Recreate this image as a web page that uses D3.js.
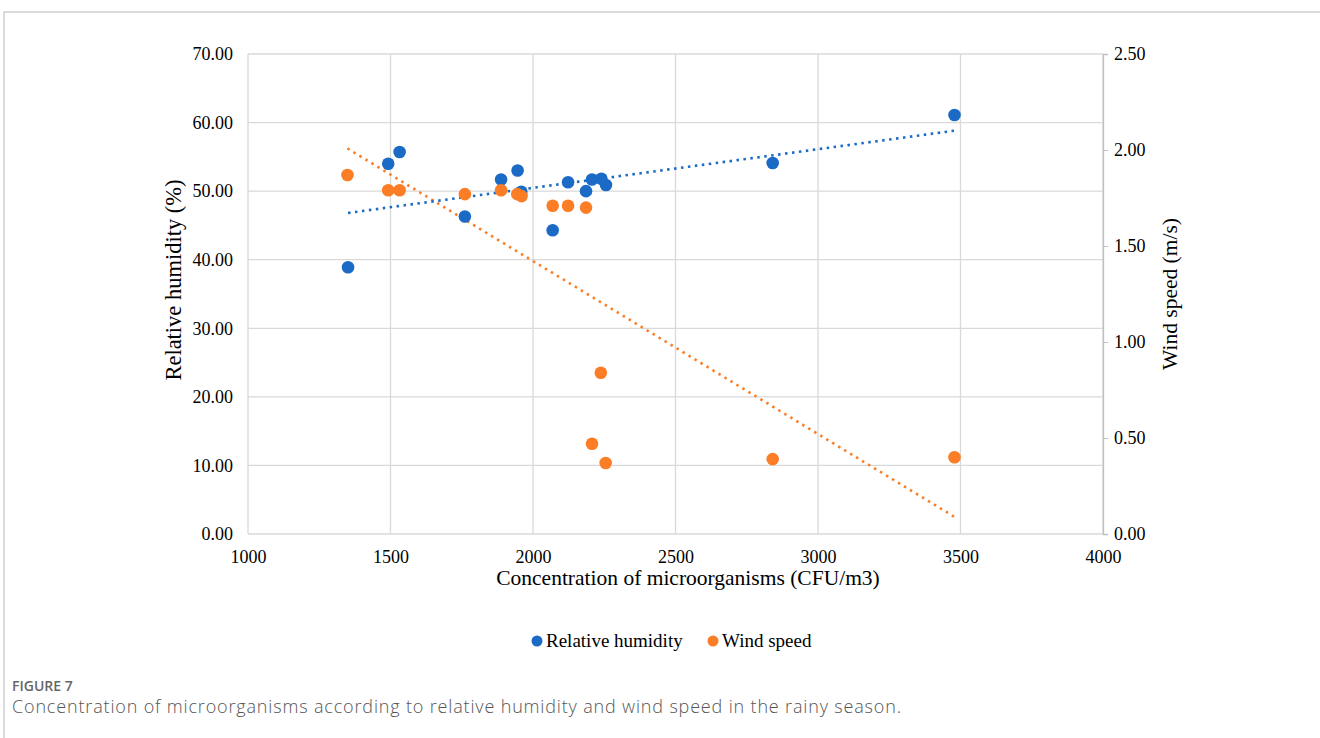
<!DOCTYPE html>
<html lang="en">
  <head>
    <meta charset="UTF-8" />
    <title>Figure 7</title>
    <style>
      body { margin: 0; background: #fff; }
      svg text { font-family: "Liberation Serif", "Times New Roman", serif; }
      svg .cap { font-family: "Open Sans", "Noto Sans", sans-serif; }
    </style>
  </head>
  <body>
    <svg width="1320" height="738" xmlns="http://www.w3.org/2000/svg"></svg>
    <script src="https://cdn.jsdelivr.net/npm/d3@7/dist/d3.min.js"></script>
    <script>
      // concentration (CFU/m3) for each sample
      const conc = [1351, 1492, 1532, 1761, 1888, 1946, 1959, 2069, 2123, 2186, 2207, 2240, 2256, 2841, 3479];
      const humidity = [38.9, 54.0, 55.7, 46.3, 51.7, 53.0, 49.9, 44.3, 51.3, 50.0, 51.7, 51.8, 50.9, 54.1, 61.1];
      const windConc = [1349, 1492, 1532, 1761, 1888, 1945, 1960, 2069, 2123, 2186, 2238, 2207, 2255, 2841, 3479];
      const wind = [1.87, 1.79, 1.79, 1.77, 1.79, 1.77, 1.76, 1.71, 1.71, 1.70, 0.84, 0.47, 0.37, 0.39, 0.40];

      const xTicks = [1000, 1500, 2000, 2500, 3000, 3500, 4000];
      const yLeftTicks = [0, 10, 20, 30, 40, 50, 60, 70];
      const yRightTicks = [0, 0.5, 1, 1.5, 2, 2.5];

      const blue = "#1b6bc6";
      const orange = "#fb7d26";

      const svg = d3.select("svg");
      const m = { left: 248, right: 1103, top: 54, bottom: 534 };

      const x = d3.scaleLinear().domain([1000, 4000]).range([m.left, m.right]);
      const yL = d3.scaleLinear().domain([0, 70]).range([m.bottom, m.top]);
      const yR = d3.scaleLinear().domain([0, 2.5]).range([m.bottom, m.top]);

      // card frame
      svg.append("path")
        .attr("d", "M4,738 V12 H1320")
        .attr("fill", "none")
        .attr("stroke", "#d0d0d0")
        .attr("stroke-width", 1.5);

      // grid
      const grid = svg.append("g").attr("stroke", "#d9d9d9").attr("stroke-width", 1.3);
      grid.selectAll(".gx").data(xTicks).join("line")
        .attr("x1", d => x(d)).attr("x2", d => x(d))
        .attr("y1", m.top).attr("y2", m.bottom);
      grid.selectAll(".gy").data(yLeftTicks).join("line")
        .attr("x1", m.left).attr("x2", m.right)
        .attr("y1", d => yL(d)).attr("y2", d => yL(d));

      // axes
      const ax = svg.append("g")
        .attr("transform", `translate(0,${m.bottom})`)
        .call(d3.axisBottom(x).tickValues(xTicks).tickSize(0).tickPadding(16).tickFormat(d3.format("d")));
      const axL = svg.append("g")
        .attr("transform", `translate(${m.left},0)`)
        .call(d3.axisLeft(yL).tickValues(yLeftTicks).tickSize(0).tickPadding(15).tickFormat(d3.format(".2f")));
      const axR = svg.append("g")
        .attr("transform", `translate(${m.right},0)`)
        .call(d3.axisRight(yR).tickValues(yRightTicks).tickSize(5).tickPadding(6).tickFormat(d3.format(".2f")));
      [ax, axL, axR].forEach(g => {
        g.select(".domain").attr("stroke", "#bfbfbf").attr("stroke-width", 1.3);
        g.selectAll(".tick line").attr("stroke", "#bfbfbf");
        g.selectAll("text").attr("font-size", 18).attr("fill", "#000")
          .attr("font-family", "Liberation Serif, Times New Roman, serif");
      });
      ax.select(".domain").remove();
      axL.select(".domain").remove();

      // trendlines (least squares)
      function trend(xs, ys) {
        const mx = d3.mean(xs), my = d3.mean(ys);
        let sxy = 0, sxx = 0;
        xs.forEach((v, i) => { sxy += (v - mx) * (ys[i] - my); sxx += (v - mx) * (v - mx); });
        const b = sxy / sxx;
        const x0 = d3.min(xs), x1 = d3.max(xs);
        return [[x0, my + b * (x0 - mx)], [x1, my + b * (x1 - mx)]];
      }
      const tH = trend(conc, humidity);
      const tW = trend(windConc, wind);

      svg.append("line")
        .attr("x1", x(tW[0][0])).attr("y1", yR(tW[0][1]))
        .attr("x2", x(tW[1][0])).attr("y2", yR(tW[1][1]))
        .attr("stroke", orange).attr("stroke-width", 2.6)
        .attr("stroke-dasharray", "2.5,4.5");
      svg.append("line")
        .attr("x1", x(tH[0][0])).attr("y1", yL(tH[0][1]))
        .attr("x2", x(tH[1][0])).attr("y2", yL(tH[1][1]))
        .attr("stroke", blue).attr("stroke-width", 2.6)
        .attr("stroke-dasharray", "2.5,4.5");

      // points
      svg.append("g").selectAll("circle").data(conc).join("circle")
        .attr("cx", d => x(d))
        .attr("cy", (d, i) => yL(humidity[i]))
        .attr("r", 6.3)
        .attr("fill", blue);
      svg.append("g").selectAll("circle").data(windConc).join("circle")
        .attr("cx", d => x(d))
        .attr("cy", (d, i) => yR(wind[i]))
        .attr("r", 6.3)
        .attr("fill", orange);

      // axis titles
      svg.append("text")
        .attr("x", 688).attr("y", 585)
        .attr("text-anchor", "middle").attr("font-size", 21.5)
        .text("Concentration of microorganisms (CFU/m3)");
      svg.append("text")
        .attr("transform", `translate(181,${(m.top + m.bottom) / 2 - 14}) rotate(-90)`)
        .attr("text-anchor", "middle").attr("font-size", 22.5)
        .text("Relative humidity (%)");
      svg.append("text")
        .attr("transform", `translate(1177,${(m.top + m.bottom) / 2}) rotate(-90)`)
        .attr("text-anchor", "middle").attr("font-size", 21.5)
        .text("Wind speed (m/s)");

      // legend
      const legend = [
        { label: "Relative humidity", color: blue, x: 537 },
        { label: "Wind speed", color: orange, x: 713 }
      ];
      const lg = svg.append("g").selectAll("g").data(legend).join("g")
        .attr("transform", d => `translate(${d.x},641)`);
      lg.append("circle").attr("r", 5.5).attr("fill", d => d.color);
      lg.append("text").attr("x", 9).attr("y", 6).attr("font-size", 19).text(d => d.label);

      // caption
      svg.append("text").attr("class", "cap")
        .attr("x", 12).attr("y", 691).attr("font-size", 14).attr("font-weight", 600).attr("fill", "#666")
        .text("FIGURE 7");
      svg.append("text").attr("class", "cap")
        .attr("x", 12).attr("y", 713).attr("font-size", 18).attr("font-weight", 300).attr("fill", "#555")
        .attr("textLength", 889).attr("lengthAdjust", "spacing")
        .text("Concentration of microorganisms according to relative humidity and wind speed in the rainy season.");
    </script>
  </body>
</html>
